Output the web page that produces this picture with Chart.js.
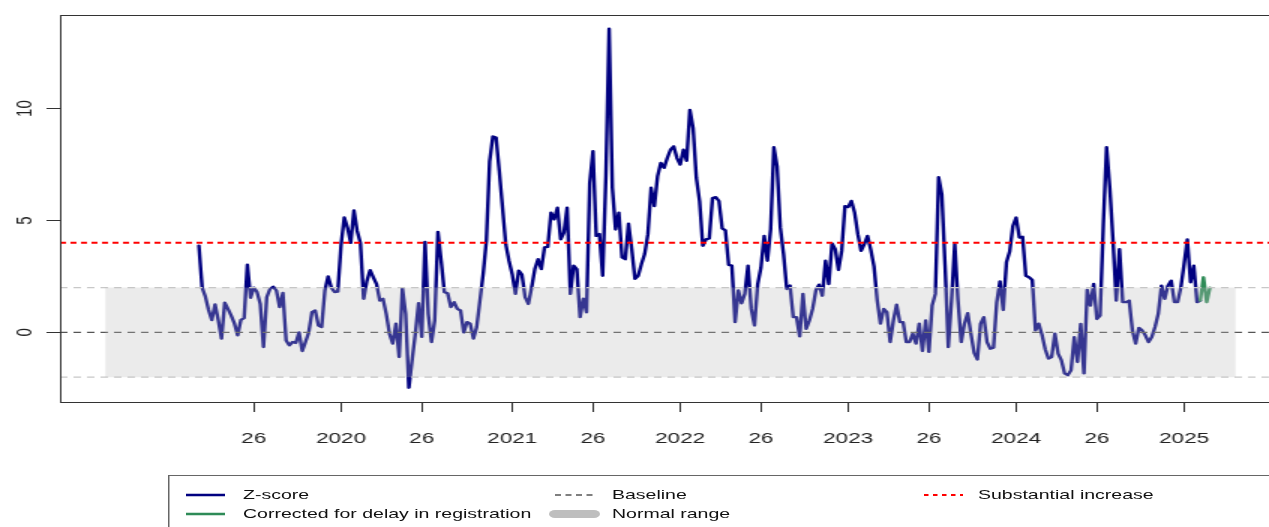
<!DOCTYPE html>
<html lang="en">
<head>
<meta charset="UTF-8">
<title>Z-score</title>
<script src="https://cdn.jsdelivr.net/npm/chart.js@4.4.1/dist/chart.umd.min.js"></script>
<style>
  html, body { margin: 0; padding: 0; background: #fff; width: 1269px; height: 527px; overflow: hidden; }
  /* the reference is stretched sideways, so the whole figure is drawn narrow and scaled */
  #stage { position: absolute; left: 0; top: 0; width: 860px; height: 540px; transform: scaleX(1.5); transform-origin: 0 0; }
  #wrap { position: absolute; left: 0; top: 0; width: 860px; height: 470px; }
  #legend { position: absolute; left: 112px; top: 475px; width: 760px; height: 70px; border: 1px solid #666; box-sizing: border-box;
            font-family: "Liberation Sans", Arial, sans-serif; font-size: 13px; color: #111; }
  #legend .item { position: absolute; height: 16px; line-height: 16px; white-space: nowrap; }
  #legend svg { position: absolute; top: 3px; }
  #legend span { position: absolute; }
</style>
</head>
<body>
<div id="stage">
  <div id="wrap"><canvas id="chart"></canvas></div>
  <div id="legend"></div>
</div>
<script>
// weekly z-scores, first value is week index 8 (2019 week 9)
const zStart = 8;
const zScore = [
  3.87, 2.0, 1.6, 1.0, 0.55, 1.25, 0.55, -0.28, 1.33, 1.05,
  0.75, 0.4, -0.13, 0.56, 0.64, 3.02, 1.55, 2.0, 1.8, 1.27,
  -0.65, 1.57, 1.94, 2.04, 1.87, 1.13, 1.76, -0.36, -0.58, -0.43,
  -0.47, 0.0, -0.83, -0.43, 0.0, 0.9, 0.98, 0.31, 0.24, 1.87,
  2.5, 2.0, 1.8, 1.82, 3.9, 5.13, 4.68, 4.0, 5.45, 4.53,
  4.0, 1.5, 2.3, 2.78, 2.46, 2.16, 1.42, 1.5, 0.83, -0.06,
  -0.5, 0.39, -1.1, 1.97, 0.83, -2.47, -1.24, -0.06, 1.3, -0.2,
  4.04, 0.83, -0.43, 0.53, 4.49, 3.2, 1.8, 1.75, 1.13, 1.35,
  1.05, 0.98, 0.0, 0.46, 0.39, -0.28, 0.24, 1.42, 2.6, 4.1,
  7.64, 8.75, 8.7, 7.2, 5.57, 3.94, 3.2, 2.6, 1.72, 2.76,
  2.58, 1.57, 1.27, 2.0, 2.83, 3.27, 2.83, 3.8, 3.82, 5.35,
  5.05, 5.57, 4.16, 4.46, 5.57, 1.72, 2.98, 2.83, 0.68, 1.5,
  0.9, 6.68, 8.09, 4.31, 4.39, 2.53, 7.0, 13.57, 6.46, 4.6,
  5.35, 3.35, 3.27, 4.86, 3.72, 2.39, 2.53, 3.05, 3.5, 4.39,
  6.46, 5.64, 6.98, 7.57, 7.35, 7.79, 8.16, 8.31, 7.79, 7.5,
  8.16, 7.67, 9.94, 9.13, 6.9, 5.87, 3.87, 4.16, 4.2, 6.0,
  6.04, 5.87, 4.65, 4.56, 3.02, 2.98, 0.46, 1.87, 1.3, 1.72,
  2.98, 1.05, 0.31, 2.16, 2.9, 4.31, 3.2, 4.6, 8.27, 7.42,
  4.68, 3.5, 1.94, 2.09, 0.68, 0.68, -0.18, 1.72, 0.16, 0.53,
  1.05, 1.87, 2.13, 1.64, 3.2, 2.16, 3.97, 3.72, 2.79, 3.64,
  5.64, 5.6, 5.87, 5.35, 4.39, 3.64, 3.94, 4.31, 3.7, 2.95,
  1.42, 0.39, 1.05, 0.9, -0.43, 0.53, 1.24, 0.46, 0.46, -0.43,
  -0.43, -0.06, -0.5, 0.39, -0.83, 0.53, -0.87, 1.2, 1.72, 6.93,
  6.16, 3.0, -0.65, 1.42, 3.94, 1.42, -0.43, 0.39, 0.86, -0.06,
  -0.92, -1.21, 0.39, 0.68, -0.43, -0.73, -0.68, 1.35, 2.28, 1.0,
  3.13, 3.61, 4.75, 5.13, 4.24, 4.27, 2.53, 2.46, 2.34, 0.09,
  0.39, -0.1, -0.75, -1.17, -1.1, -0.06, -0.95, -1.24, -1.83, -1.91,
  -1.69, -0.21, -1.32, 0.38, -1.83, 1.9, 1.2, 2.16, 0.6, 0.75,
  4.83, 8.27, 6.46, 4.09, 1.42, 3.72, 1.35, 1.35, 1.42, 0.09,
  -0.5, 0.2, 0.09, -0.13, -0.43, -0.21, 0.24, 0.83, 2.09, 1.5,
  2.09, 2.31, 1.35, 1.35, 2.01, 3.05, 4.15, 2.24, 2.98, 1.35,
  1.42
];
// last weeks corrected for registration delay
const corrStart = 318;
const corrected = [1.42, 2.46, 1.35, 2.0];

const tickWeeks = [25, 52, 77, 105, 130, 157, 182, 209, 234, 261, 286, 313];
const tickLabels = ['26', '2020', '26', '2021', '26', '2022', '26', '2023', '26', '2024', '26', '2025'];
const yTicks = [0, 5, 10];

const bandWeeks = [-21, 329];
const normalLow = -2, normalHigh = 2;
const baseline = 0;
const increase = 4;
const xRange = [-35, 343];
const yRange = [-3.11, 14.18];

const toPoints = (start, vals) => vals.map((v, i) => ({ x: start + i, y: v }));
const hline = (y) => [{ x: xRange[0], y: y }, { x: xRange[1], y: y }];

const frame = {
  id: 'frame',
  afterDraw(chart) {
    const { ctx, chartArea: a } = chart;
    ctx.save();
    ctx.strokeStyle = '#333';
    ctx.lineWidth = 1;
    ctx.strokeRect(a.left + 0.5, a.top + 0.5, a.right - a.left, a.bottom - a.top);
    ctx.restore();
  }
};

const noPts = { pointRadius: 0, pointHoverRadius: 0, tension: 0 };

new Chart(document.getElementById('chart'), {
  type: 'line',
  data: {
    datasets: [
      // band is drawn last so the line shows through it, as in the R plot
      { label: 'Normal range', data: bandWeeks.map(x => ({ x: x, y: normalHigh })), fill: { value: normalLow },
        backgroundColor: 'rgba(187,187,187,0.29)', borderWidth: 0, order: 0, ...noPts },
      { label: 'upper', data: hline(normalHigh), borderColor: '#c8c8c8', borderWidth: 1.3, borderDash: [5, 4], fill: false, order: 1, ...noPts },
      { label: 'lower', data: hline(normalLow), borderColor: '#c8c8c8', borderWidth: 1.3, borderDash: [5, 4], fill: false, order: 1, ...noPts },
      { label: 'Baseline', data: hline(baseline), borderColor: '#555', borderWidth: 1.3, borderDash: [5, 4], fill: false, order: 2, ...noPts },
      { label: 'Substantial increase', data: hline(increase), borderColor: '#ff0000', borderWidth: 2, borderDash: [4, 3], fill: false, order: 3, ...noPts },
      { label: 'Corrected for delay in registration', data: toPoints(corrStart, corrected), borderColor: '#2e8b57', borderWidth: 2.4,
        borderJoinStyle: 'round', borderCapStyle: 'round', fill: false, order: 4, ...noPts },
      { label: 'Z-score', data: toPoints(zStart, zScore), borderColor: '#000080', borderWidth: 2.4,
        borderJoinStyle: 'round', borderCapStyle: 'round', fill: false, order: 5, ...noPts }
    ]
  },
  options: {
    responsive: true,
    maintainAspectRatio: false,
    animation: false,
    events: [],
    layout: { padding: { top: 13, right: 6, left: 0, bottom: 0 } },
    plugins: { legend: { display: false }, tooltip: { enabled: false } },
    scales: {
      x: {
        type: 'linear', min: xRange[0], max: xRange[1],
        afterBuildTicks: (s) => { s.ticks = tickWeeks.map(v => ({ value: v })); },
        afterFit: (s) => { s.height = 68; },
        border: { display: false },
        grid: { drawOnChartArea: false, drawTicks: true, tickLength: 10, color: '#333', lineWidth: 1 },
        ticks: { autoSkip: false, maxRotation: 0, padding: 18, color: '#222',
                 font: { family: '"Liberation Sans", Arial, sans-serif', size: 15 },
                 callback: (v, i) => tickLabels[i] }
      },
      y: {
        type: 'linear', min: yRange[0], max: yRange[1],
        afterBuildTicks: (s) => { s.ticks = yTicks.map(v => ({ value: v })); },
        afterFit: (s) => { s.width = 40; },
        border: { display: false },
        grid: { drawOnChartArea: false, drawTicks: true, tickLength: 9, color: '#333', lineWidth: 1 },
        ticks: { minRotation: 90, maxRotation: 90, crossAlign: 'center', padding: 6, color: '#222',
                 font: { family: '"Liberation Sans", Arial, sans-serif', size: 15 } }
      }
    }
  },
  plugins: [frame]
});

// legend laid out like the R legend: two rows, three columns
const legendItems = [
  { label: 'Z-score', col: 0, row: 0, stroke: '#000080', width: 2.4, dash: '' },
  { label: 'Corrected for delay in registration', col: 0, row: 1, stroke: '#2e8b57', width: 2.4, dash: '' },
  { label: 'Baseline', col: 1, row: 0, stroke: '#555', width: 1.3, dash: '4 3' },
  { label: 'Normal range', col: 1, row: 1, stroke: '#bebebe', width: 8, dash: '', cap: 'round' },
  { label: 'Substantial increase', col: 2, row: 0, stroke: '#ff0000', width: 2, dash: '3 3' }
];
const colLine = [11, 257, 503];
const colText = [49, 295, 539];
const rowY = [11, 30];
const legend = document.getElementById('legend');
legendItems.forEach(it => {
  const d = document.createElement('div');
  d.className = 'item';
  d.style.left = colLine[it.col] + 'px';
  d.style.top = rowY[it.row] + 'px';
  const len = 26;
  d.innerHTML = '<svg width="' + (len + 8) + '" height="10" style="left:-4px">' +
    '<line x1="4" y1="5" x2="' + (len + 4) + '" y2="5" stroke="' + it.stroke + '" stroke-width="' + it.width + '"' +
    (it.dash ? ' stroke-dasharray="' + it.dash + '"' : '') + (it.cap ? ' stroke-linecap="round"' : '') + '/></svg>' +
    '<span style="left:' + (colText[it.col] - colLine[it.col]) + 'px">' + it.label + '</span>';
  legend.appendChild(d);
});
</script>
</body>
</html>
